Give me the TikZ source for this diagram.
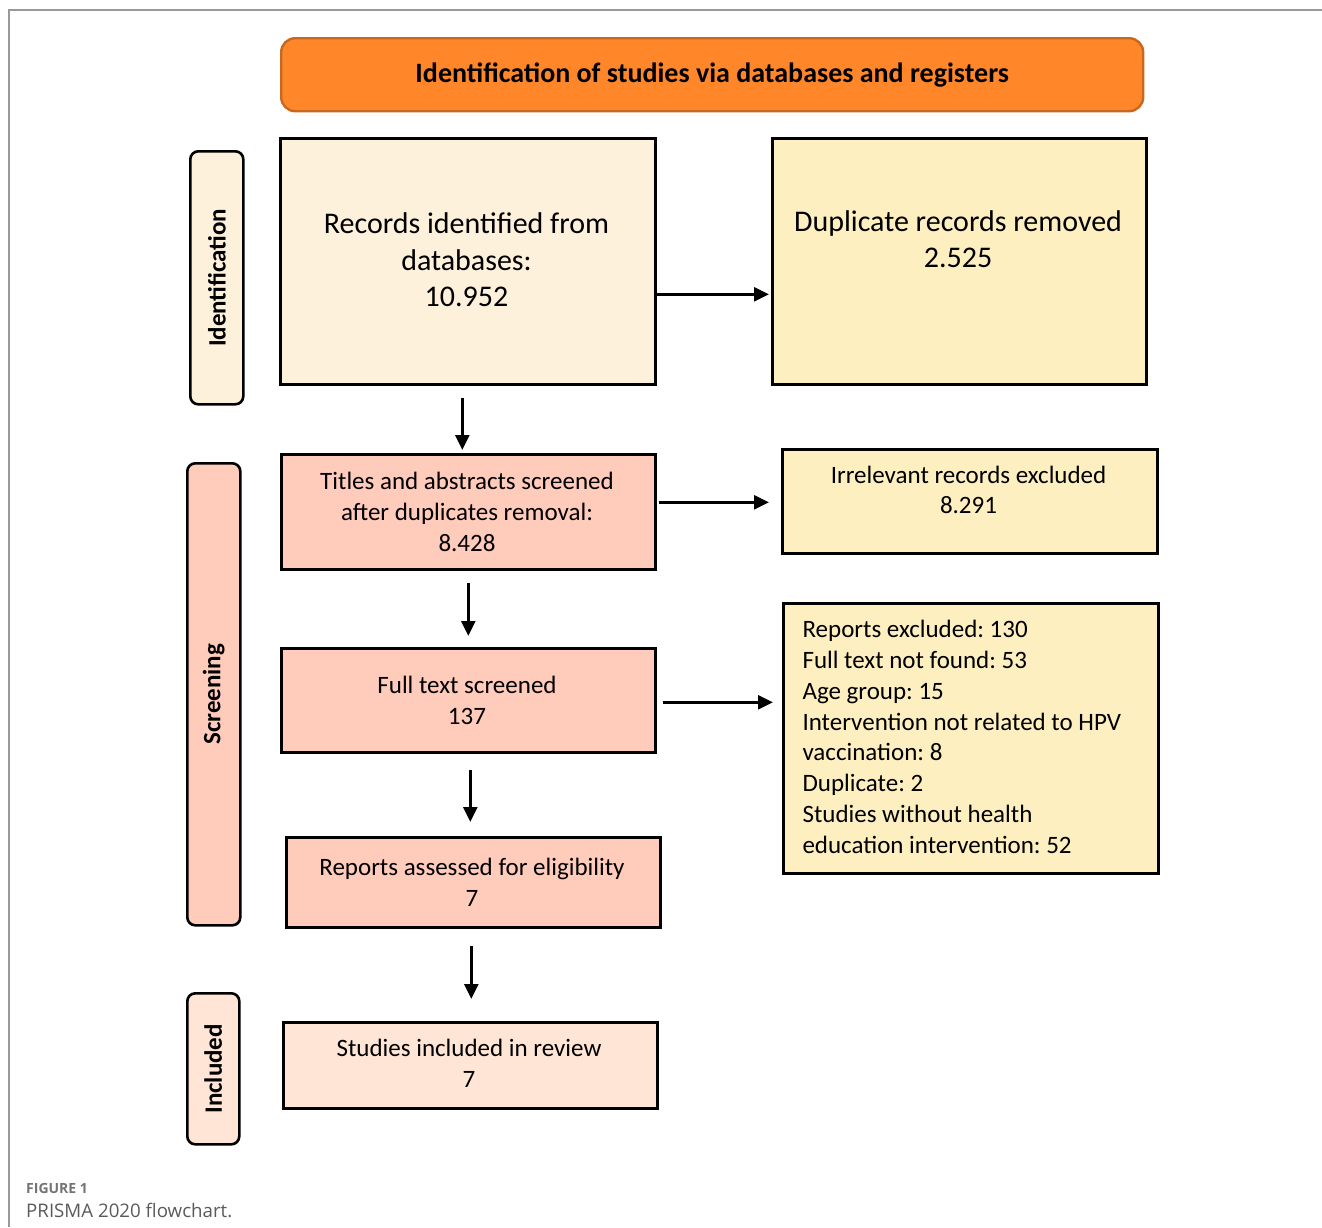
\documentclass[tikz,border=0pt]{standalone}
\usepackage{fontspec}
\setmainfont{Carlito}
\newfontfamily\capfont{Open Sans}
\usetikzlibrary{arrows.meta,calc}
\frenchspacing
\definecolor{hdrfill}{HTML}{FF8629}
\definecolor{hdrdraw}{HTML}{C8681E}
\definecolor{cream}{HTML}{FEF1DC}
\definecolor{yel}{HTML}{FEEFC0}
\definecolor{salmon}{HTML}{FFCBBA}
\definecolor{peach}{HTML}{FEE5D5}
\definecolor{framegray}{HTML}{999999}
\definecolor{capgray}{HTML}{5A5A5A}
\tikzset{
  box/.style={draw=black, line width=2.6pt, anchor=north west, inner sep=0pt},
  tab/.style={draw=black, line width=2.6pt, rounded corners=8pt, anchor=north west, inner sep=0pt},
  bigtxt/.style={font=\fontsize{30}{36.5}\selectfont, align=center},
  smalltxt/.style={font=\fontsize{25}{30.8}\selectfont, align=center},
  tabtxt/.style={font=\fontsize{25}{30}\selectfont\bfseries, rotate=90},
  arr/.style={line width=2.8pt, -{Triangle[length=15pt,width=14pt]}}
}
\begin{document}
\begin{tikzpicture}[x=1pt,y=-1pt]
\useasboundingbox (0,0) rectangle (1322,1227);
% frame
\draw[framegray, line width=1.4pt] (1322,10) -- (9,10) -- (9,1227);
% header
\node[draw=hdrdraw, fill=hdrfill, line width=2.4pt, rounded corners=14pt, anchor=north west,
      minimum width=862pt, minimum height=73pt, inner sep=0pt,
      font=\fontsize{28}{32}\selectfont\bfseries] (hdr) at (280,37)
      {Identification of studies via databases and registers};
% side tabs
\node[tab, fill=cream, minimum width=53pt, minimum height=253pt] (tabid) at (189,150) {};
\node[tabtxt] (tabidt) at (tabid.center) {Identification};
\node[tab, fill=salmon, minimum width=53pt, minimum height=462pt] (tabsc) at (186,462) {};
\node[tabtxt] (tabsct) at (tabsc.center) {Screening};
\node[tab, fill=peach, minimum width=52pt, minimum height=151pt] (tabin) at (186,992) {};
\node[tabtxt] (tabint) at (tabin.center) {Included};
% main boxes
\node[box, fill=cream, minimum width=375pt, minimum height=246pt] (rec) at (279,137) {};
\node[bigtxt] (rect) at (466.5,260) {Records identified from\\databases:\\10.952};
\node[box, fill=yel, minimum width=374pt, minimum height=246pt] (dup) at (771,137) {};
\node[bigtxt] (dupt) at (958,239) {Duplicate records removed\\2.525};
\node[box, fill=salmon, minimum width=374pt, minimum height=115pt] (tit) at (280,453) {};
\node[smalltxt] (titt) at (467,512) {Titles and abstracts screened\\after duplicates removal:\\8.428};
\node[box, fill=yel, minimum width=375pt, minimum height=104pt] (irr) at (781,448) {};
\node[smalltxt] (irrt) at (968.5,490) {Irrelevant records excluded\\8.291};
\node[box, fill=salmon, minimum width=374pt, minimum height=104pt] (full) at (280,647) {};
\node[smalltxt] (fullt) at (467,700) {Full text screened\\137};
\node[box, fill=yel, minimum width=375pt, minimum height=270pt] (rep) at (782,602) {};
\node[smalltxt, align=left, anchor=west] (rept) at (799,737) {Reports excluded: 130\\Full text not found: 53\\Age group: 15\\Intervention not related to HPV\\vaccination: 8\\Duplicate: 2\\Studies without health\\education intervention: 52};
\node[box, fill=salmon, minimum width=374pt, minimum height=90pt] (ass) at (285,836) {};
\node[smalltxt] (asst) at (472,882) {Reports assessed for eligibility\\7};
\node[box, fill=peach, minimum width=374pt, minimum height=86pt] (stu) at (282,1021) {};
\node[smalltxt] (stut) at (469,1063) {Studies included in review\\7};
% arrows
\draw[arr] ([yshift=-33pt]rec.east) -- ([xshift=-2pt,yshift=-33pt]rec.east -| dup.west);
\draw[arr] ([xshift=-5.5pt,yshift=-12pt]rec.south) -- ([xshift=-5.5pt,yshift=3pt]rec.south |- tit.north);
\draw[arr] ([xshift=2pt,yshift=9.5pt]tit.east) -- ([xshift=-12pt,yshift=9.5pt]tit.east -| irr.west);
\draw[arr] ([yshift=-12pt]tit.south) -- ([yshift=11pt]tit.south |- full.north);
\draw[arr] ([xshift=6pt,yshift=-2pt]full.east) -- ([xshift=-9pt,yshift=-2pt]full.east -| rep.west);
\draw[arr] ([xshift=2pt,yshift=-16pt]full.south) -- ([xshift=2pt,yshift=14pt]full.south |- ass.north);
\draw[arr] ([xshift=-2pt,yshift=-17pt]ass.south) -- ([xshift=-2pt,yshift=22pt]ass.south |- stu.north);
% caption
\node[anchor=base west, font=\capfont\fontsize{14}{16}\selectfont\bfseries, text=capgray!85, inner sep=0pt] (figlab) at (26,1193) {FIGURE 1};
\node[anchor=base west, font=\capfont\fontsize{18.7}{20}\selectfont, text=capgray, inner sep=0pt] (figcap) at (26,1217) {PRISMA 2020 flowchart.};
\end{tikzpicture}
\end{document}
